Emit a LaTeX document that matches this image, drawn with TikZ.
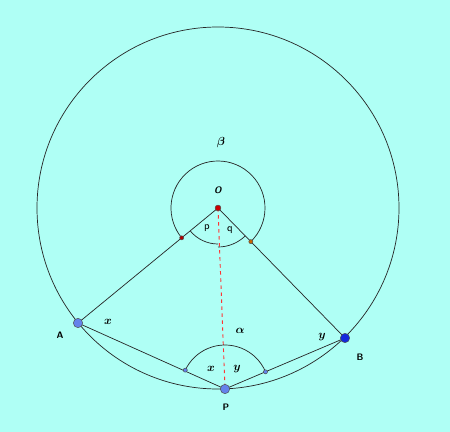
\documentclass[tikz,border=0pt]{standalone}
\usepackage{amsmath,bm}
\usetikzlibrary{calc}
\definecolor{bgcyan}{RGB}{175,255,245}
\definecolor{ptblue}{RGB}{100,130,235}
\definecolor{ptdark}{RGB}{20,40,220}
\begin{document}
\begin{tikzpicture}[x=0.03cm,y=-0.03cm,
    pt/.style={circle,draw=black!70,inner sep=0pt,minimum size=8pt},
    dot/.style={circle,draw=black!70,inner sep=0pt,minimum size=3.5pt},
    lab/.style={font=\sffamily\bfseries\footnotesize},
    arm/.style={black!85,semithick}]

    % background
    \fill[bgcyan] (0,0) rectangle (450,432);
    \useasboundingbox (0,0) rectangle (450,432);

    % points
    \coordinate (O) at (218,208);
    \coordinate (A) at (78,323);
    \coordinate (B) at (345,338);
    \coordinate (P) at (225,389);

    % big circle through A, P and B
    \draw[arm] (O) circle[radius=181];

    % arms from O and from P
    \draw[arm] (O) -- (A);
    \draw[arm] (O) -- (B);
    \draw[arm] (A) -- (P) -- (B);
    \draw[red!80,dashed,thick] (O) -- (P);

    % angles at O (y axis points down, so angles run clockwise)
    \draw[arm] ($(O)+(45.7:47)$) arc[start angle=45.7,end angle=-219.4,radius=47];
    \draw[arm] ($(O)+(-219.4:36)$) arc[start angle=-219.4,end angle=-270,radius=36];
    \draw[arm] ($(O)+(-270:39)$) arc[start angle=-270,end angle=-314.3,radius=39];

    % angle at P
    \draw[arm] ($(P)+(-23:44)$) arc[start angle=-23,end angle=-154.6,radius=44];

    % marks
    \node[dot,fill=red!70!black] (oa) at ($(O)+(-219.4:47)$) {};
    \node[dot,fill=orange!80!black] (ob) at ($(O)+(45.7:47)$) {};
    \node[dot,fill=ptblue] (pa) at ($(P)+(-154.6:44)$) {};
    \node[dot,fill=ptblue] (pb) at ($(P)+(-23:44)$) {};
    \node[pt,fill=red!80!black,minimum size=5pt] (o) at (O) {};
    \node[pt,fill=ptblue] (a) at (A) {};
    \node[pt,fill=ptdark] (b) at (B) {};
    \node[pt,fill=ptblue] (p) at (P) {};

    % labels
    \node[lab] (lo) at (218,190) {\textit{O}};
    \node[lab] (la) at (60,335) {A};
    \node[lab] (lb) at (360,357) {B};
    \node[lab] (lp) at (226,407) {P};
    \node (lbeta) at (221,143) {$\bm\beta$};
    \node (lalpha) at (240,331) {$\bm\alpha$};
    \node (lx1) at (108,322) {$\bm x$};
    \node (ly1) at (322,337) {$\bm y$};
    \node (lx2) at (211,369) {$\bm x$};
    \node (ly2) at (237,369) {$\bm y$};
    \node[font=\sffamily\small] (lp2) at (207,228) {p};
    \node[font=\sffamily\small] (lq) at (230,230) {q};
\end{tikzpicture}
\end{document}
